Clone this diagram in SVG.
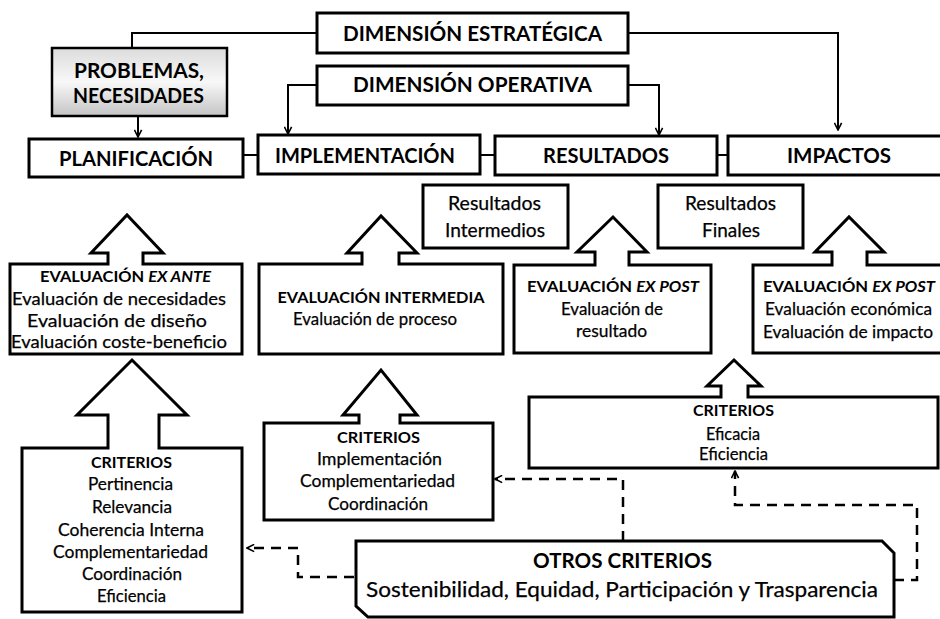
<svg xmlns="http://www.w3.org/2000/svg" width="940" height="619" viewBox="0 0 940 619">
<defs>
<linearGradient id="grayGrad" x1="0" y1="0" x2="0" y2="1">
<stop offset="0" stop-color="#dcdcdc"/>
<stop offset="0.5" stop-color="#f8f8f8"/>
<stop offset="1" stop-color="#c4c4c4"/>
</linearGradient>
<marker id="arr" viewBox="0 0 10 10" refX="9" refY="5" markerUnits="userSpaceOnUse" markerWidth="9" markerHeight="9" orient="auto">
<path d="M1,1 L9,5 L1,9" fill="none" stroke="#000" stroke-width="1.8"/>
</marker>
</defs>
<style>
.box{fill:#fff;stroke:#000;stroke-width:3;stroke-linejoin:miter}
.conn{fill:none;stroke:#000;stroke-width:2}
.dash{fill:none;stroke:#000;stroke-width:2.5;stroke-dasharray:10 7}
text{font-family:Lato,"Liberation Sans",Arial,sans-serif;fill:#000;text-anchor:middle}
.big{font-size:21px;font-weight:bold}
.hd{font-size:16px;font-weight:bold}
.it{font-style:italic}
.tx{font-size:18px;stroke:#000;stroke-width:0.25}
.md{font-size:19px;stroke:#000;stroke-width:0.25}
</style>
<rect width="940" height="619" fill="#fff"/>

<g id="connectors">
<path class="conn" d="M317,33 L132,33 L132,48"/>
<path class="conn" d="M138,116 L138,137" marker-end="url(#arr)"/>
<path class="conn" d="M317,85 L288,85 L288,134" marker-end="url(#arr)"/>
<path class="conn" d="M628,85 L659,85 L659,135" marker-end="url(#arr)"/>
<path class="conn" d="M628,33 L838,33 L838,130" marker-end="url(#arr)"/>
<path class="conn" d="M243,155 L258,155"/>
<path class="conn" d="M480,155 L495,155"/>
<path class="conn" d="M717,155 L728,155"/>
<path class="dash" d="M354,577 L298,577 L298,548 L247,548" marker-end="url(#arr)"/>
<path class="dash" d="M623,541 L623,479 L495,479" marker-end="url(#arr)"/>
<path class="dash" d="M894,580 L917,580 L917,505 L735,505 L735,471" marker-end="url(#arr)"/>
</g>

<g id="dim-estrategica">
<rect class="box" x="317" y="13" width="311" height="40"/>
<text class="big" x="472.5" y="41" textLength="259" lengthAdjust="spacingAndGlyphs">DIMENSIÓN ESTRATÉGICA</text>
</g>
<g id="dim-operativa">
<rect class="box" x="317" y="66" width="311" height="39"/>
<text class="big" x="472.5" y="92" textLength="239" lengthAdjust="spacingAndGlyphs">DIMENSIÓN OPERATIVA</text>
</g>
<g id="problemas">
<rect x="52" y="48" width="175" height="68" fill="url(#grayGrad)" stroke="#000" stroke-width="2.5"/>
<text class="big" x="139" y="78" textLength="130" lengthAdjust="spacingAndGlyphs">PROBLEMAS,</text>
<text class="big" x="138.5" y="103" textLength="131" lengthAdjust="spacingAndGlyphs">NECESIDADES</text>
</g>
<g id="planificacion">
<rect class="box" x="29" y="139" width="214" height="38"/>
<text class="big" x="136" y="166" textLength="154" lengthAdjust="spacingAndGlyphs">PLANIFICACIÓN</text>
</g>
<g id="implementacion">
<rect class="box" x="258" y="135" width="222" height="39"/>
<text class="big" x="365" y="163" textLength="180" lengthAdjust="spacingAndGlyphs">IMPLEMENTACIÓN</text>
</g>
<g id="resultados">
<rect class="box" x="495" y="136" width="222" height="39"/>
<text class="big" x="606" y="163" textLength="126" lengthAdjust="spacingAndGlyphs">RESULTADOS</text>
</g>
<g id="impactos">
<rect class="box" x="728" y="136" width="220" height="39"/>
<text class="big" x="839" y="163" textLength="104" lengthAdjust="spacingAndGlyphs">IMPACTOS</text>
</g>
<g id="res-intermedios">
<rect class="box" x="423" y="185" width="145" height="63"/>
<text class="md" x="494.5" y="210" textLength="93" lengthAdjust="spacingAndGlyphs">Resultados</text>
<text class="md" x="495" y="237" textLength="100" lengthAdjust="spacingAndGlyphs">Intermedios</text>
</g>
<g id="res-finales">
<rect class="box" x="658" y="185" width="145" height="63"/>
<text class="md" x="730.5" y="210" textLength="91" lengthAdjust="spacingAndGlyphs">Resultados</text>
<text class="md" x="731" y="237" textLength="58" lengthAdjust="spacingAndGlyphs">Finales</text>
</g>

<g id="eval-exante">
<path class="box" d="M10,264 L108,264 L108,253 L91,253 L127,215 L163,253 L143,253 L143,264 L242,264 L242,354 L10,354 Z"/>
<text class="hd" x="125.5" y="282" textLength="171" lengthAdjust="spacingAndGlyphs">EVALUACIÓN <tspan class="it">EX ANTE</tspan></text>
<text class="tx" x="119" y="305" textLength="214" lengthAdjust="spacingAndGlyphs">Evaluación de necesidades</text>
<text class="tx" x="117" y="327" textLength="180" lengthAdjust="spacingAndGlyphs">Evaluación de diseño</text>
<text class="tx" x="119" y="348" textLength="216" lengthAdjust="spacingAndGlyphs">Evaluación coste-beneficio</text>
</g>
<g id="eval-intermedia">
<path class="box" d="M259,264 L362,264 L362,253 L347,253 L381,216 L417,253 L399,253 L399,264 L503,264 L503,354 L259,354 Z"/>
<text class="hd" x="381" y="303" textLength="207" lengthAdjust="spacingAndGlyphs">EVALUACIÓN INTERMEDIA</text>
<text class="tx" x="375" y="325" textLength="164" lengthAdjust="spacingAndGlyphs">Evaluación de proceso</text>
</g>
<g id="eval-expost-1">
<path class="box" d="M514,265 L595,265 L595,252 L577,252 L613,217 L647,252 L629,252 L629,265 L711,265 L711,353 L514,353 Z"/>
<text class="hd" x="613" y="292" textLength="172" lengthAdjust="spacingAndGlyphs">EVALUACIÓN <tspan class="it">EX POST</tspan></text>
<text class="tx" x="612" y="315" textLength="102" lengthAdjust="spacingAndGlyphs">Evaluación de</text>
<text class="tx" x="611.5" y="337" textLength="71" lengthAdjust="spacingAndGlyphs">resultado</text>
</g>
<g id="eval-expost-2">
<path class="box" d="M753,265 L832,265 L832,252 L815,252 L849,217 L884,252 L867,252 L867,265 L948,265 L948,353 L753,353 Z"/>
<text class="hd" x="849" y="292" textLength="172" lengthAdjust="spacingAndGlyphs">EVALUACIÓN <tspan class="it">EX POST</tspan></text>
<text class="tx" x="848.5" y="315" textLength="167" lengthAdjust="spacingAndGlyphs">Evaluación económica</text>
<text class="tx" x="848" y="338" textLength="170" lengthAdjust="spacingAndGlyphs">Evaluación de impacto</text>
</g>

<g id="criterios-1">
<path class="box" d="M22,448 L108,448 L108,415 L77,415 L132,360 L187,415 L159,415 L159,448 L242,448 L242,612 L22,612 Z"/>
<text class="hd" x="131.5" y="468" textLength="81" lengthAdjust="spacingAndGlyphs">CRITERIOS</text>
<text class="tx" x="130.5" y="490" textLength="85" lengthAdjust="spacingAndGlyphs">Pertinencia</text>
<text class="tx" x="132" y="513" textLength="80" lengthAdjust="spacingAndGlyphs">Relevancia</text>
<text class="tx" x="131" y="536" textLength="146" lengthAdjust="spacingAndGlyphs">Coherencia Interna</text>
<text class="tx" x="130.5" y="558" textLength="155" lengthAdjust="spacingAndGlyphs">Complementariedad</text>
<text class="tx" x="132" y="580" textLength="100" lengthAdjust="spacingAndGlyphs">Coordinación</text>
<text class="tx" x="131.5" y="602" textLength="69" lengthAdjust="spacingAndGlyphs">Eficiencia</text>
</g>
<g id="criterios-2">
<path class="box" d="M264,423 L359,423 L359,415 L343,415 L381,370 L417,415 L400,415 L400,423 L493,423 L493,520 L264,520 Z"/>
<text class="hd" x="378.5" y="443" textLength="83" lengthAdjust="spacingAndGlyphs">CRITERIOS</text>
<text class="tx" x="379.5" y="465" textLength="125" lengthAdjust="spacingAndGlyphs">Implementación</text>
<text class="tx" x="377.5" y="487" textLength="155" lengthAdjust="spacingAndGlyphs">Complementariedad</text>
<text class="tx" x="378" y="510" textLength="100" lengthAdjust="spacingAndGlyphs">Coordinación</text>
</g>
<g id="criterios-3">
<path class="box" d="M529,397 L721,397 L721,386 L707,386 L734,360 L761,386 L748,386 L748,397 L938,397 L938,468 L529,468 Z"/>
<text class="hd" x="733.5" y="416" textLength="81" lengthAdjust="spacingAndGlyphs">CRITERIOS</text>
<text class="tx" x="733" y="440" textLength="54" lengthAdjust="spacingAndGlyphs">Eficacia</text>
<text class="tx" x="733.5" y="460" textLength="69" lengthAdjust="spacingAndGlyphs">Eficiencia</text>
</g>
<g id="otros-criterios">
<path class="box" d="M356,541 L882,541 L894,553 L894,617 L368,617 L356,606 Z"/>
<text x="622.5" y="568" style="font-size:20px;font-weight:bold" textLength="179" lengthAdjust="spacingAndGlyphs">OTROS CRITERIOS</text>
<text x="622" y="597" style="font-size:21px;stroke:#000;stroke-width:0.25" textLength="512" lengthAdjust="spacingAndGlyphs">Sostenibilidad, Equidad, Participación y Trasparencia</text>
</g>
</svg>
